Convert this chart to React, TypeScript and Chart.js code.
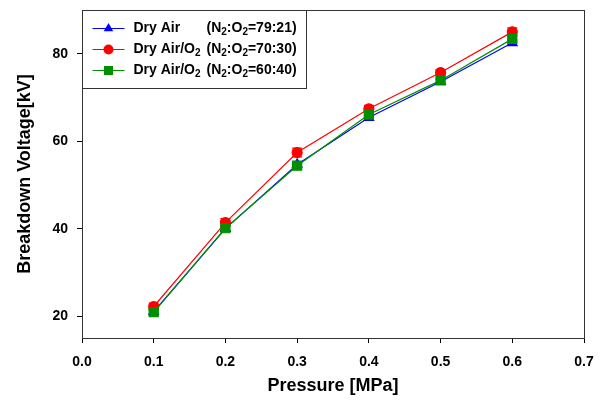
import React, { useEffect, useRef } from "react";
import { Chart, registerables } from "chart.js";

Chart.register(...registerables);

const pressures = [0.1, 0.2, 0.3, 0.4, 0.5, 0.6];
const dryAir = [21.0, 40.0, 54.7, 65.4, 73.6, 82.5];
const dryAirO2_70 = [22.2, 41.4, 57.4, 67.4, 75.7, 85.0];
const dryAirO2_60 = [20.9, 40.1, 54.4, 66.1, 73.9, 83.4];
const errBlue = [0.5, 0.5, 0.5, 0.5, 0.5, 0.6];
const errRed = [0.8, 0.9, 1.0, 0.8, 0.7, 0.9];
const errGreen = [0.6, 0.6, 0.5, 0.6, 0.6, 0.7];
const yTicks = [20, 40, 60, 80];
const xTickValues = [0, 0.1, 0.2, 0.3, 0.4, 0.5, 0.6, 0.7];

const FONT = "Arial, 'Liberation Sans', Helvetica, sans-serif";
const BLUE = "#0000ff";
const RED = "#ff0000";
const GREEN = "#008f00";

type Seg = { t: string; sub?: boolean };
const legendRows: { color: string; marker: string; name: Seg[]; ratio: Seg[] }[] = [
  {
    color: BLUE,
    marker: "triangle",
    name: [{ t: "Dry Air" }],
    ratio: [{ t: "(N" }, { t: "2", sub: true }, { t: ":O" }, { t: "2", sub: true }, { t: "=79:21)" }],
  },
  {
    color: RED,
    marker: "circle",
    name: [{ t: "Dry Air/O" }, { t: "2", sub: true }],
    ratio: [{ t: "(N" }, { t: "2", sub: true }, { t: ":O" }, { t: "2", sub: true }, { t: "=70:30)" }],
  },
  {
    color: GREEN,
    marker: "rect",
    name: [{ t: "Dry Air/O" }, { t: "2", sub: true }],
    ratio: [{ t: "(N" }, { t: "2", sub: true }, { t: ":O" }, { t: "2", sub: true }, { t: "=60:40)" }],
  },
];

function drawMarker(ctx: CanvasRenderingContext2D, kind: string, x: number, y: number, color: string) {
  ctx.save();
  ctx.fillStyle = color;
  ctx.beginPath();
  if (kind === "triangle") {
    const r = 5.5;
    ctx.moveTo(x, y - r);
    ctx.lineTo(x + r * 0.866, y + r * 0.5);
    ctx.lineTo(x - r * 0.866, y + r * 0.5);
    ctx.closePath();
  } else if (kind === "circle") {
    ctx.arc(x, y, 5, 0, Math.PI * 2);
  } else {
    ctx.rect(x - 4.5, y - 4.5, 9, 9);
  }
  ctx.fill();
  ctx.restore();
}

function drawRich(ctx: CanvasRenderingContext2D, segs: Seg[], x: number, y: number) {
  let cx = x;
  for (const s of segs) {
    if (s.sub) {
      ctx.font = `bold 10px ${FONT}`;
      ctx.fillText(s.t, cx, y + 4);
    } else {
      ctx.font = `bold 14px ${FONT}`;
      ctx.fillText(s.t, cx, y);
    }
    cx += ctx.measureText(s.t).width;
  }
}

const errorBarPlugin = {
  id: "errorBars",
  beforeDatasetsDraw(chart: any) {
    const ctx = chart.ctx;
    const yScale = chart.scales.y;
    const errs = [errBlue, errRed, errGreen];
    chart.data.datasets.forEach((ds: any, i: number) => {
      const meta = chart.getDatasetMeta(i);
      ctx.save();
      ctx.strokeStyle = ds.borderColor;
      ctx.lineWidth = 1.2;
      meta.data.forEach((pt: any, j: number) => {
        const v = ds.data[j].y;
        const e = errs[i][j];
        const yTop = yScale.getPixelForValue(v + e);
        const yBot = yScale.getPixelForValue(v - e);
        ctx.beginPath();
        ctx.moveTo(pt.x, yTop);
        ctx.lineTo(pt.x, yBot);
        ctx.moveTo(pt.x - 5, yTop);
        ctx.lineTo(pt.x + 5, yTop);
        ctx.moveTo(pt.x - 5, yBot);
        ctx.lineTo(pt.x + 5, yBot);
        ctx.stroke();
      });
      ctx.restore();
    });
  },
};

const framePlugin = {
  id: "frameLegend",
  afterDraw(chart: any) {
    const ctx = chart.ctx;
    const a = chart.chartArea;
    ctx.save();
    ctx.strokeStyle = "#333333";
    ctx.lineWidth = 1;
    ctx.strokeRect(Math.round(a.left) + 0.5, Math.round(a.top) + 0.5, Math.round(a.right - a.left), Math.round(a.bottom - a.top));
    // legend
    const lx = Math.round(a.left) + 0.5;
    const ly = Math.round(a.top) + 0.5;
    const lw = 224;
    const lh = 78;
    ctx.fillStyle = "#ffffff";
    ctx.fillRect(lx, ly, lw, lh);
    ctx.strokeRect(lx, ly, lw, lh);
    ctx.textBaseline = "middle";
    ctx.textAlign = "left";
    legendRows.forEach((row, i) => {
      const y = ly + 18 + i * 21;
      ctx.strokeStyle = row.color;
      ctx.lineWidth = 1.2;
      ctx.beginPath();
      ctx.moveTo(lx + 10, y);
      ctx.lineTo(lx + 42, y);
      ctx.stroke();
      drawMarker(ctx, row.marker, lx + 26, y, row.color);
      ctx.fillStyle = "#000000";
      drawRich(ctx, row.name, lx + 51, y);
      drawRich(ctx, row.ratio, lx + 124, y);
    });
    ctx.restore();
  },
};

export default function App() {
  const ref = useRef<HTMLCanvasElement>(null);
  useEffect(() => {
    if (!ref.current) return;
    const toXY = (vals: number[]) => pressures.map((p, i) => ({ x: p, y: vals[i] }));
    const chart = new Chart(ref.current, {
      type: "line",
      data: {
        datasets: [
          {
            label: "Dry Air (N2:O2=79:21)",
            data: toXY(dryAir),
            borderColor: BLUE,
            backgroundColor: BLUE,
            pointStyle: "triangle",
            pointRadius: 5.5,
            borderWidth: 1.2,
            order: 2,
          },
          {
            label: "Dry Air/O2 (N2:O2=70:30)",
            data: toXY(dryAirO2_70),
            borderColor: RED,
            backgroundColor: RED,
            pointStyle: "circle",
            pointRadius: 5,
            borderWidth: 1.2,
            order: 1,
          },
          {
            label: "Dry Air/O2 (N2:O2=60:40)",
            data: toXY(dryAirO2_60),
            borderColor: GREEN,
            backgroundColor: GREEN,
            pointStyle: "rect",
            pointRadius: 6.4,
            borderWidth: 1.2,
            order: 0,
          },
        ],
      },
      options: {
        responsive: false,
        animation: false,
        events: [],
        layout: { padding: { top: 10, right: 22, left: 0, bottom: 0 } },
        plugins: { legend: { display: false }, tooltip: { enabled: false } },
        elements: { point: { borderWidth: 0, hoverRadius: 0 }, line: { tension: 0 } },
        scales: {
          x: {
            type: "linear",
            min: 0,
            max: 0.7,
            afterBuildTicks: (s: any) => {
              s.ticks = xTickValues.map((v) => ({ value: v }));
            },
            afterFit: (s: any) => {
              s.height = 67;
              s.paddingLeft = 0;
              s.paddingRight = 0;
            },
            border: { display: false },
            grid: { drawOnChartArea: false, drawTicks: true, tickLength: 5, color: "#000000", tickColor: "#000000" },
            ticks: {
              padding: 11,
              color: "#000000",
              font: { family: FONT, size: 14, weight: "bold" },
              callback: (v: any) => Number(v).toFixed(1),
              autoSkip: false,
              maxRotation: 0,
            },
            title: {
              display: true,
              text: "Pressure [MPa]",
              color: "#000000",
              font: { family: FONT, size: 18, weight: "bold" },
              padding: { top: 0, bottom: 8 },
            },
          },
          y: {
            type: "linear",
            min: 15,
            max: 90,
            afterBuildTicks: (s: any) => {
              s.ticks = yTicks.map((v) => ({ value: v }));
            },
            afterFit: (s: any) => {
              s.width = 82;
              s.paddingTop = 0;
              s.paddingBottom = 0;
            },
            border: { display: false },
            grid: { drawOnChartArea: false, drawTicks: true, tickLength: 5, color: "#000000", tickColor: "#000000" },
            ticks: {
              padding: 9,
              color: "#000000",
              font: { family: FONT, size: 14, weight: "bold" },
              autoSkip: false,
            },
            title: {
              display: true,
              text: "Breakdown Voltage[kV]",
              color: "#000000",
              font: { family: FONT, size: 18, weight: "bold" },
              padding: { top: 14, bottom: 0 },
            },
          },
        },
      },
      plugins: [errorBarPlugin, framePlugin],
    } as any);
    return () => chart.destroy();
  }, []);
  return (
    <div style={{ position: "absolute", left: 0, top: 0, width: 606, height: 405, background: "#ffffff" }}>
      <canvas ref={ref} width={606} height={405} style={{ display: "block" }} />
    </div>
  );
}
